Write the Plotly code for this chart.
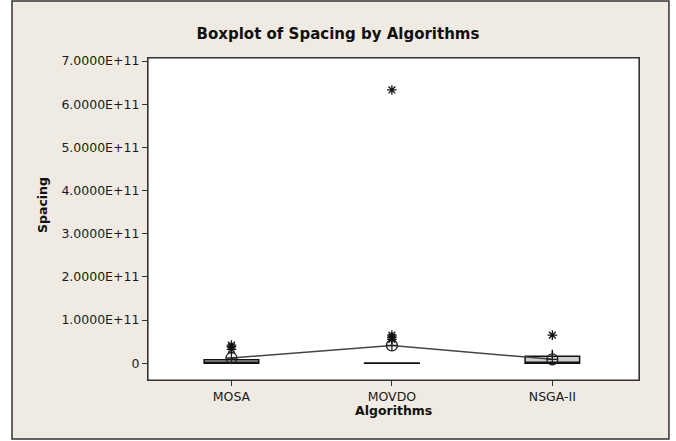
import plotly.graph_objects as go

categories = ["MOSA", "MOVDO", "NSGA-II"]
q1 = [0.0, 0.0, 0.0]
median = [0.02e11, 0.0, 0.02e11]
q3 = [0.08e11, 0.004e11, 0.16e11]
lowerfence = [0.0, 0.0, 0.0]
upperfence = [0.14e11, 0.008e11, 0.31e11]
means = [0.12e11, 0.41e11, 0.09e11]

outlier_x = ["MOSA", "MOSA", "MOSA", "MOVDO", "MOVDO", "MOVDO", "MOVDO", "NSGA-II"]
outlier_y = [0.32e11, 0.38e11, 0.42e11, 0.55e11, 0.60e11, 0.65e11, 6.33e11, 0.65e11]

ytick_vals = [0, 1e11, 2e11, 3e11, 4e11, 5e11, 6e11, 7e11]
ytick_text = ["0", "1.0000E+11", "2.0000E+11", "3.0000E+11", "4.0000E+11",
              "5.0000E+11", "6.0000E+11", "7.0000E+11"]

FONT = "DejaVu Sans"
BEIGE = "#efebe3"

fig = go.Figure()

fig.add_trace(go.Box(
    x=categories, q1=q1, median=median, q3=q3,
    lowerfence=lowerfence, upperfence=upperfence,
    width=0.34, whiskerwidth=0,
    fillcolor="#cfcfcf",
    line=dict(color="#111111", width=1.5),
    boxpoints=False, showlegend=False, hoverinfo="skip",
))

fig.add_trace(go.Scatter(
    x=categories, y=means, mode="lines+markers",
    line=dict(color="#444444", width=1.5),
    marker=dict(symbol="circle-cross-open", size=11, color="#222222",
                line=dict(width=1.3)),
    showlegend=False, hoverinfo="skip",
))

fig.add_trace(go.Scatter(
    x=outlier_x, y=outlier_y, mode="markers",
    marker=dict(symbol="asterisk-open", size=8, color="#111111",
                line=dict(width=1.3, color="#111111")),
    showlegend=False, hoverinfo="skip",
))

# Outer frame (beige panel) and white plot area
fig.add_shape(type="rect", xref="paper", yref="paper",
              x0=-0.277, x1=1.061, y0=-0.183, y1=1.177,
              fillcolor=BEIGE, line=dict(color="#333333", width=1.5),
              layer="below")
fig.add_shape(type="rect", xref="paper", yref="paper",
              x0=0, x1=1, y0=0, y1=1,
              fillcolor="white", line=dict(color="#333333", width=1.2),
              layer="below")

fig.update_layout(
    width=676, height=441,
    margin=dict(l=148, r=37, t=58, b=61),
    paper_bgcolor="white",
    plot_bgcolor="white",
    font=dict(family=FONT, color="#222222", size=12),
    title=dict(text="<b>Boxplot of Spacing by Algorithms</b>",
               x=0.5, xanchor="center", y=1 - 34 / 441, yanchor="middle",
               font=dict(family=FONT, size=15, color="#111111")),
    showlegend=False,
)

fig.update_xaxes(
    type="category", categoryorder="array", categoryarray=categories,
    range=[-0.52, 2.54],
    showgrid=False, zeroline=False,
    showline=True, linecolor="#333333", linewidth=1.2, mirror=True,
    ticks="outside", ticklen=5, tickcolor="#333333",
    tickfont=dict(family=FONT, size=12.5, color="#1a1a1a"),
)
fig.update_yaxes(
    range=[-0.39e11, 7.07e11],
    tickvals=ytick_vals, ticktext=ytick_text,
    showgrid=False, zeroline=False,
    showline=True, linecolor="#333333", linewidth=1.2, mirror=True,
    ticks="outside", ticklen=5, tickcolor="#333333",
    tickfont=dict(family=FONT, size=12.5, color="#1a1a1a"),
)

fig.add_annotation(text="<b>Algorithms</b>", xref="paper", yref="paper",
                   x=0.5, y=-(410 - 380) / 322, xanchor="center", yanchor="middle",
                   showarrow=False, font=dict(family=FONT, size=12.5, color="#111111"))
fig.add_annotation(text="<b>Spacing</b>", xref="paper", yref="paper",
                   x=(42 - 148) / 491, y=(380 - 205) / 322, xanchor="center", yanchor="middle",
                   textangle=-90, showarrow=False,
                   font=dict(family=FONT, size=12.5, color="#111111"))

fig.write_html("out.html", config={"displayModeBar": False},
               post_script="document.body.style.margin='0';")
